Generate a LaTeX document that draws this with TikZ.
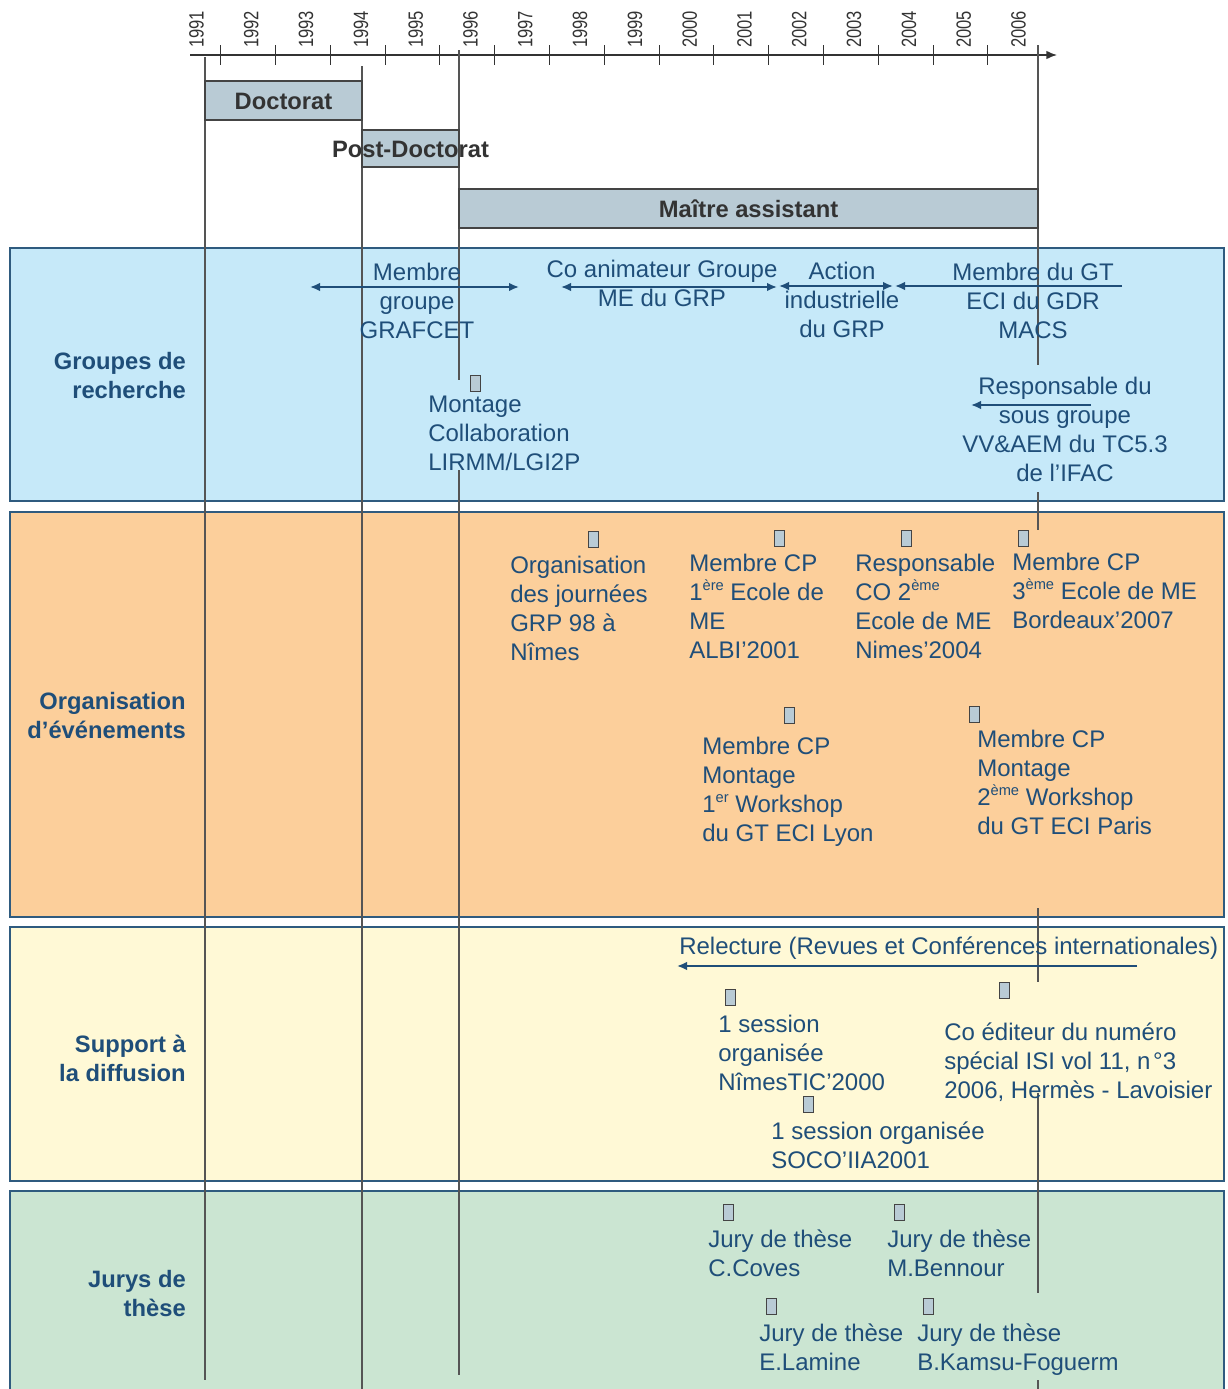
\documentclass[tikz,border=0pt]{standalone}
\usepackage{graphicx}
\usepackage{fontspec}
\setmainfont{Liberation Sans}
\usetikzlibrary{arrows.meta}
\definecolor{txt}{HTML}{1F4E79}
\definecolor{bord}{HTML}{2F5B7F}
\definecolor{bandA}{HTML}{C6E9F9}
\definecolor{bandB}{HTML}{FCCF9B}
\definecolor{bandC}{HTML}{FFF9D6}
\definecolor{bandD}{HTML}{CBE5D2}
\definecolor{barfill}{HTML}{B9CBD5}
\definecolor{barline}{HTML}{444444}
\definecolor{bartext}{HTML}{333333}
\definecolor{guidec}{HTML}{555555}
\newcommand{\sups}[1]{\raisebox{0.75ex}{\fontsize{11}{11}\selectfont #1}}
\begin{document}
\begin{tikzpicture}[x=0.75pt,y=-0.75pt,
  band/.style={draw=bord, line width=1pt},
  bar/.style={draw=barline, fill=barfill, line width=0.9pt},
  sq/.style={draw=barline, fill=barfill, line width=0.7pt, minimum width=7.5pt, minimum height=12pt, inner sep=0pt},
  lbl/.style={text=txt, font=\fontsize{18}{21.6}\selectfont, inner sep=0pt, align=left, anchor=north west},
  clbl/.style={lbl, align=center, anchor=north},
  cat/.style={text=txt, font=\fontsize{17.8}{21.75}\selectfont\bfseries, inner sep=0pt, align=right, anchor=north east},
  bartxt/.style={text=bartext, font=\fontsize{17.8}{21}\selectfont\bfseries, inner sep=0pt},
  yr/.style={rotate=90, anchor=west, text=bartext, font=\fontsize{12.4}{14}\selectfont, inner sep=0pt},
  guide/.style={draw=guidec, line width=0.8pt},
  axisline/.style={draw=bartext, line width=1.1pt},
  arr/.style={draw=txt, line width=1.4pt, -{Latex[length=7.5pt,width=6.5pt]}},
  darr/.style={draw=txt, line width=1.4pt, {Latex[length=7.5pt,width=6.5pt]}-{Latex[length=7.5pt,width=6.5pt]}}
]
\useasboundingbox (0,0) rectangle (1228,1389);

% bands
\draw[band, fill=bandA] (10,248) rectangle (1224,501);
\draw[band, fill=bandB] (10,512) rectangle (1224,917);
\draw[band, fill=bandC] (10,927) rectangle (1224,1181);
\draw[band, fill=bandD] (10,1191) rectangle (1224,1400);

% axis
\coordinate (axL) at (190,55);
\coordinate (axR) at (1057,55);
\draw[axisline, -{Latex[length=8pt,width=6.5pt]}] (axL) -- (axR);
\foreach \i in {0,...,14} \draw[axisline, line width=0.8pt] ({220.7+54.8*\i},45) -- ++(0,20);
\draw[axisline, line width=0.8pt] (1038,45) -- (1038,65);
\foreach \y [count=\i from 0] in {1991,...,2006}
  \node[yr] (y\y) at ({196.5+54.8*\i},48) {\scalebox{1}[1.25]{\y}};

% guide lines
\draw[guide] (205,57) -- (205,1380);
\draw[guide] (362,66) -- (362,1389);
\draw[guide] (459,50) -- (459,380);
\draw[guide] (459,470) -- (459,1375);
\draw[guide] (1038,45) -- (1038,365);
\draw[guide] (1038,492) -- (1038,530);
\draw[guide] (1038,908) -- (1038,982);
\draw[guide] (1038,1093) -- (1038,1293);
\draw[guide] (1038,1380) -- (1038,1389);

% bars
\draw[bar] (205,81) rectangle (362,120);
\draw[bar] (362,130) rectangle (459,167);
\draw[bar] (459,189) rectangle (1038,228);
\node[bartxt] (doct) at (283.5,101) {Doctorat};
\node[bartxt] (postdoct) at (410.5,149) {Post-Doctorat};
\node[bartxt] (ma) at (748.5,209) {Maître assistant};

% category labels
\node[cat] (catA) at (186,352) {Groupes de\\recherche};
\node[cat] (catB) at (186,692) {Organisation\\d’événements};
\node[cat] (catC) at (186,1035) {Support à\\la diffusion};
\node[cat] (catD) at (186,1270) {Jurys de\\thèse};

% Groupes de recherche
\node[clbl] (grafcet) at (417,263) {Membre\\groupe\\GRAFCET};
\node[clbl] (coanim) at (662,260) {Co animateur Groupe\\ME du GRP};
\node[clbl] (action) at (842,262) {Action\\industrielle\\du GRP};
\node[clbl] (gt) at (1033,263) {Membre du GT\\ECI du GDR\\MACS};
\node[lbl] (montage) at (428,396) {Montage\\Collaboration\\LIRMM/LGI2P};
\node[clbl] (respsg) at (1065,377) {Responsable du\\sous groupe\\VV\&AEM du TC5.3\\de l’IFAC};

\coordinate (a1l) at (310,287); \coordinate (a1r) at (519,287);
\coordinate (a2l) at (561,287); \coordinate (a2r) at (777,287);
\coordinate (a3l) at (779,286); \coordinate (a3r) at (893,286);
\coordinate (a4s) at (1122,286); \coordinate (a4e) at (895,286);
\coordinate (a5s) at (1091,405); \coordinate (a5e) at (971,405);
\draw[darr] (a1l) -- (a1r);
\draw[darr] (a2l) -- (a2r);
\draw[darr] (a3l) -- (a3r);
\draw[arr] (a4s) -- (a4e);
\draw[arr] (a5s) -- (a5e);

% Organisation
\node[lbl] (orggrp) at (510,556) {Organisation\\des journées\\GRP 98 à\\Nîmes};
\node[lbl] (cpalbi) at (689,554) {Membre CP\\1\sups{ère} Ecole de\\ME\\ALBI’2001};
\node[lbl] (respnimes) at (855,554) {Responsable\\CO 2\sups{ème}\\Ecole de ME\\Nimes’2004};
\node[lbl] (cpbdx) at (1012,553) {Membre CP\\3\sups{ème} Ecole de ME\\Bordeaux’2007};
\node[lbl] (cplyon) at (702,737) {Membre CP\\Montage\\1\sups{er} Workshop\\du GT ECI Lyon};
\node[lbl] (cpparis) at (977,730) {Membre CP\\Montage\\2\sups{ème} Workshop\\du GT ECI Paris};

% Support
\node[lbl] (relect) at (679,937) {Relecture (Revues et Conférences internationales)};
\coordinate (a6s) at (1137,966); \coordinate (a6e) at (677,966);
\draw[arr] (a6s) -- (a6e);
\node[lbl] (sessnimes) at (718,1015) {1 session\\organisée\\NîmesTIC’2000};
\node[lbl] (coedit) at (944,1023) {Co éditeur du numéro\\spécial ISI vol 11, n\kern2pt°3\\2006, Hermès - Lavoisier};
\node[lbl] (sesssoco) at (771,1122) {1 session organisée\\SOCO’IIA2001};

% Jurys
\node[lbl] (jcoves) at (708,1230) {Jury de thèse\\C.Coves};
\node[lbl] (jbennour) at (887,1230) {Jury de thèse\\M.Bennour};
\node[lbl] (jlamine) at (759,1324) {Jury de thèse\\E.Lamine};
\node[lbl] (jkamsu) at (917,1324) {Jury de thèse\\B.Kamsu-Foguerm};

% small squares
\node[sq] (s1) at (475,383) {};
\node[sq] (s2) at (593,539) {};
\node[sq] (s3) at (779,538) {};
\node[sq] (s4) at (906,538) {};
\node[sq] (s5) at (1023,538) {};
\node[sq] (s6) at (789,715) {};
\node[sq] (s7) at (974,714) {};
\node[sq] (s8) at (730,997) {};
\node[sq] (s9) at (1004,990) {};
\node[sq] (s10) at (808,1104) {};
\node[sq] (s11) at (728,1212) {};
\node[sq] (s12) at (899,1212) {};
\node[sq] (s13) at (771,1306) {};
\node[sq] (s14) at (928,1306) {};
\end{tikzpicture}
\end{document}
